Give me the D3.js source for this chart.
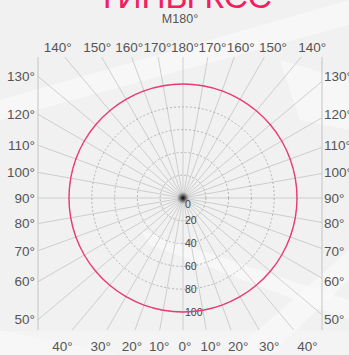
<!DOCTYPE html>
<html><head><meta charset="utf-8">
<script src="https://cdn.jsdelivr.net/npm/d3@7/dist/d3.min.js"></script>
<style>html,body{margin:0;padding:0;background:#f2f2f2;overflow:hidden}svg{display:block}</style>
</head><body>
<script>
// ---- data ----
const titleText = "ТИПЫ КСС";
const planeLabel = "M180°";
const angles = [0,10,20,30,40,50,60,70,80,90,100,110,120,130,140,150,160,170,180];
const intensityRight = [100,100,100,100,100,100,100,100,100,100,100,100,100,100,100,100,100,100,100];
const intensityLeft  = [100,100,100,100,100,100,100,100,100,100,100,100,100,100,100,100,100,100,100];
const ringValues = [20,40,60,80,100];
const ringLabels = [0,20,40,60,80,100];
const sideTickAngles = [50,60,70,80,90,100,110,120,130];
const topTickAngles = [140,150,160,170,180];
const bottomTickAngles = [0,10,20,30,40];

const W = 349, H = 355;
const cx = 183, cy = 198;
const frame = {x0: 38, y0: 57, x1: 322, y1: 330};
const svg = d3.select("body").append("svg").attr("width", W).attr("height", H);

const defs = svg.append("defs");
const g1 = defs.append("radialGradient").attr("id","dot");
g1.append("stop").attr("offset","0%").attr("stop-color","#000").attr("stop-opacity",1);
g1.append("stop").attr("offset","40%").attr("stop-color","#333").attr("stop-opacity",0.7);
g1.append("stop").attr("offset","100%").attr("stop-color","#888").attr("stop-opacity",0);
defs.append("clipPath").attr("id","fr").append("rect")
  .attr("x",frame.x0).attr("y",frame.y0).attr("width",frame.x1-frame.x0).attr("height",frame.y1-frame.y0);

svg.append("rect").attr("width",W).attr("height",H).attr("fill","#f1f1f1");
const streaks = [
  [[0,120],[0,100],[349,0],[349,25]],
  [[0,330],[0,355],[120,355]],
  [[230,355],[349,250],[349,280],[270,355]],
  [[280,60],[349,80],[349,130],[300,120]],
  [[140,230],[349,300],[349,320],[150,245]]
];
svg.append("g").selectAll("path").data(streaks).join("path")
  .attr("d", d => "M" + d.join("L") + "Z")
  .attr("fill","#fbfbfb").attr("opacity",0.55);
svg.append("rect").attr("x",0).attr("y",331).attr("width",W).attr("height",24).attr("fill","#f6f6f6").attr("opacity",0.6);

const r = d3.scaleLinear().domain([0,100]).range([0,114]);

const grid = svg.append("g").attr("clip-path","url(#fr)");
const rays = [];
angles.forEach(a => { rays.push({a, s:1}); if (a>0 && a<180) rays.push({a, s:-1}); });
grid.selectAll("line.ray").data(rays).join("line").attr("class","ray")
  .attr("x1",cx).attr("y1",cy)
  .attr("x2",d => cx + d.s*400*Math.sin(d.a*Math.PI/180))
  .attr("y2",d => cy + 400*Math.cos(d.a*Math.PI/180))
  .attr("stroke","#bdbdbd").attr("stroke-width",0.7);

grid.selectAll("circle.ring").data(ringValues).join("circle").attr("class","ring")
  .attr("cx",cx).attr("cy",cy).attr("r",d => r(d))
  .attr("fill","none").attr("stroke","#9a9a9a").attr("stroke-width",0.7).attr("stroke-dasharray","2,2");

svg.append("line").attr("x1",frame.x0).attr("x2",frame.x0).attr("y1",frame.y0).attr("y2",frame.y1).attr("stroke","#c4c4c4").attr("stroke-width",1);
svg.append("line").attr("x1",frame.x1).attr("x2",frame.x1).attr("y1",frame.y0).attr("y2",frame.y1).attr("stroke","#c4c4c4").attr("stroke-width",1);

svg.append("circle").attr("cx",cx).attr("cy",cy).attr("r",6.5).attr("fill","url(#dot)");

const font = "Liberation Sans, Arial, sans-serif";
svg.append("g").selectAll("text").data(ringLabels).join("text")
  .attr("x",cx+2).attr("y",d => d===0 ? cy+6 : cy + r(d))
  .attr("dy","0.35em").attr("font-family",font)
  .attr("font-size",10.5).attr("fill","#444").text(d => d);

const pts = [];
angles.forEach((a,i) => pts.push([Math.PI - a*Math.PI/180, r(intensityRight[i])]));
for (let i = angles.length-2; i >= 1; i--) pts.push([-(Math.PI - angles[i]*Math.PI/180), r(intensityLeft[i])]);
const line = d3.lineRadial().angle(d=>d[0]).radius(d=>d[1]).curve(d3.curveCardinalClosed);
svg.append("path").attr("transform",`translate(${cx},${cy})`)
  .attr("d", line(pts)).attr("fill","none").attr("stroke","#ec3b73").attr("stroke-width",1.4);

const lab = svg.append("g").attr("font-family",font).attr("font-size",13.5).attr("fill","#555");
sideTickAngles.forEach(a => {
  const y = cy + (cx - frame.x0) * Math.cos(a*Math.PI/180)/Math.sin(a*Math.PI/180);
  lab.append("text").attr("x",35).attr("y",y).attr("dy","0.35em").attr("text-anchor","end").text(a+"°");
  lab.append("text").attr("x",324).attr("y",y).attr("dy","0.35em").attr("text-anchor","start").text(a+"°");
});
const topY = 47.5;
topTickAngles.forEach(a => {
  const t = (180-a)*Math.PI/180;
  const dx = (cy - topY) * Math.tan(t);
  const sides = a===180 ? [0] : [-1,1];
  sides.forEach(s => lab.append("text").attr("x",cx + s*dx + 2 + (a===180?0:s*1)).attr("y",topY).attr("dy","0.35em")
    .attr("text-anchor","middle").text(a+"°"));
});
const botY = 346;
bottomTickAngles.forEach(a => {
  const dx = (botY - 2 - cy) * Math.tan(a*Math.PI/180);
  const sides = a===0 ? [0] : [-1,1];
  sides.forEach(s => lab.append("text").attr("x",cx + s*dx + 2).attr("y",botY).attr("dy","0.35em")
    .attr("text-anchor","middle").text(a+"°"));
});

svg.append("text").attr("x",180).attr("y",18.5).attr("dy","0.35em").attr("text-anchor","middle")
  .attr("font-family",font).attr("font-size",12.5).attr("fill","#555").text(planeLabel);

svg.append("text").attr("x",97).attr("y",8).attr("font-family",font).attr("font-size",34)
  .attr("textLength",175).attr("lengthAdjust","spacingAndGlyphs")
  .attr("fill","#f2205f").text(titleText);
</script>
</body></html>
